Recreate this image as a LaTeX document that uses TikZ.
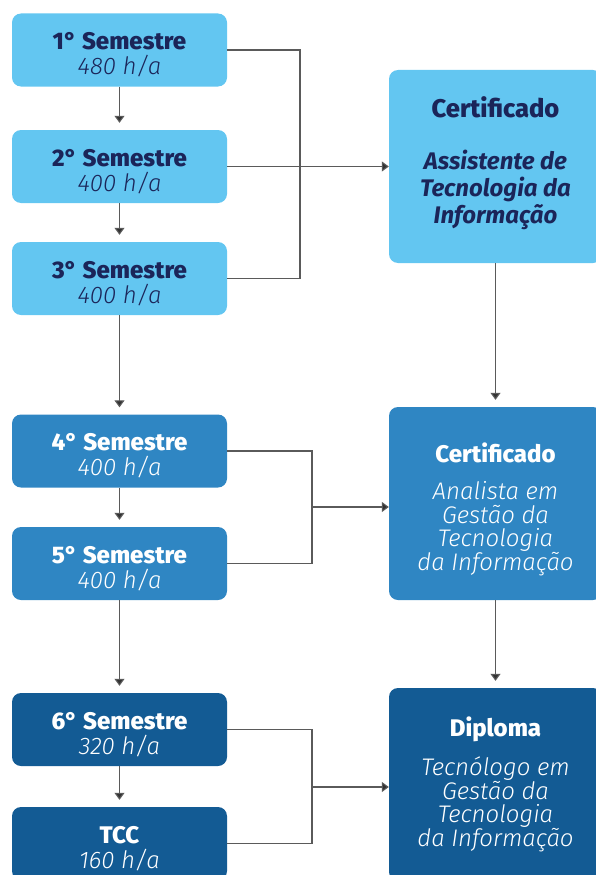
\documentclass[tikz,border=0pt]{standalone}
\usepackage{fontspec}
\setmainfont{Fira Sans}[BoldFont={Fira Sans ExtraBold}, ItalicFont={Fira Sans Light Italic}, BoldItalicFont={Fira Sans Bold Italic}]
\usetikzlibrary{arrows.meta}
\definecolor{cA}{HTML}{63C6F1}
\definecolor{cB}{HTML}{2F86C3}
\definecolor{cC}{HTML}{135B94}
\definecolor{navy}{HTML}{1B2559}
\definecolor{ln}{HTML}{5A5A5A}
\definecolor{ah}{HTML}{333333}
\newcommand{\topstrut}[1]{\rule{0pt}{#1}}
\newcommand{\botstrut}[1]{\rule[-#1]{0pt}{0pt}}
\begin{document}
\begin{tikzpicture}[x=1pt,y=-1pt,
  sem/.style={rounded corners=9pt, minimum width=215pt, minimum height=73pt,
    align=center, inner sep=0pt, font=\fontsize{24}{25}\selectfont},
  cert/.style={rounded corners=9pt, minimum width=213pt, minimum height=193pt,
    align=center, inner sep=0pt, font=\fontsize{24}{23.5}\selectfont},
  lite/.style={fill=cA, text=navy},
  mid/.style={fill=cB, text=white},
  dark/.style={fill=cC, text=white},
  conn/.style={draw=ln, line width=1.1pt},
  arr/.style={conn, -{Triangle[width=10pt,length=7pt,fill=ah]}},
  varr/.style={arr, shorten >=7pt}
]
\useasboundingbox (0,0) rectangle (595,875);

% left column
\node[sem,lite] (s1) at (119.5,50)  {\topstrut{27pt}\textbf{1° Semestre}\\\textit{480 h/a}};
\node[sem,lite] (s2) at (119.5,166.5) {\topstrut{27pt}\textbf{2° Semestre}\\\textit{400 h/a}};
\node[sem,lite] (s3) at (119.5,278.5) {\topstrut{27pt}\textbf{3° Semestre}\\\textit{400 h/a}};
\node[sem,mid]  (s4) at (119.5,451) {\topstrut{27pt}\textbf{4° Semestre}\\\textit{400 h/a}};
\node[sem,mid]  (s5) at (119.5,563.5) {\topstrut{27pt}\textbf{5° Semestre}\\\textit{400 h/a}};
\node[sem,dark] (s6) at (119.5,729.5) {\topstrut{27pt}\textbf{6° Semestre}\\\textit{320 h/a}};
\node[sem,dark] (tcc) at (119.5,843.5) {\topstrut{27pt}\textbf{TCC}\\\textit{160 h/a}};

% right column
\node[cert,lite,font=\fontsize{24}{27}\selectfont] (ca) at (495.5,166.5)
  {{\fontsize{25.5}{27}\selectfont\textbf{Certificado}}\\[25pt]\textbf{\textit{Assistente de}}\\\textbf{\textit{Tecnologia da}}\\\textbf{\textit{Informação}}\botstrut{12pt}};
\node[cert,mid] (cb) at (495.5,503.5)
  {\topstrut{31pt}\textbf{Certificado}\\[14pt]\textit{Analista em}\\\textit{Gestão da}\\\textit{Tecnologia}\\\textit{da Informação}};
\node[cert,mid,fill=cC] (cc) at (495.5,784.5)
  {\textbf{Diploma}\\[14pt]\textit{Tecnólogo em}\\\textit{Gestão da}\\\textit{Tecnologia}\\\textit{da Informação}};

% vertical arrows
\draw[varr] (s1) -- (s2);
\draw[varr] (s2) -- (s3);
\draw[varr] (s3) -- (s4);
\draw[varr] (s4) -- (s5);
\draw[varr] (s5) -- (s6);
\draw[varr] (s6) -- (tcc);
\draw[varr] (ca) -- (cb);
\draw[varr] (cb) -- (cc);

% junction to certificate A
\coordinate (ja) at (300,0);
\draw[conn] (s1.east) -- (s1.east -| ja) -- (s3.east -| ja) -- (s3.east);
\draw[arr] (s2.east) -- (ca.west);

% junction to certificate B
\coordinate (jb) at (312,507);
\draw[conn] (s4.east) -- (s4.east -| jb) -- (s5.east -| jb) -- (s5.east);
\draw[arr] (jb) -- (jb -| cb.west);

% junction to diploma
\coordinate (jc) at (312,787);
\draw[conn] (s6.east) -- (s6.east -| jc) -- (tcc.east -| jc) -- (tcc.east);
\draw[arr] (jc) -- (jc -| cc.west);
\end{tikzpicture}
\end{document}
